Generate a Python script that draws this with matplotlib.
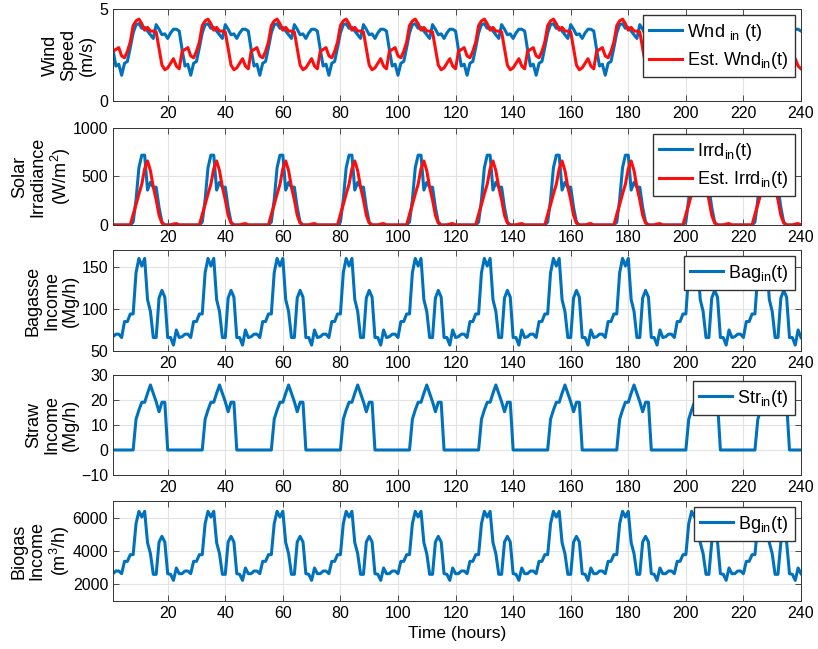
import numpy as np
import matplotlib
matplotlib.use('Agg')
import matplotlib.pyplot as plt

plt.rcParams['font.family'] = ['Liberation Sans', 'DejaVu Sans']
plt.rcParams['mathtext.fontset'] = 'custom'
plt.rcParams['mathtext.rm'] = 'Liberation Sans'
plt.rcParams['mathtext.it'] = 'Liberation Sans:italic'
plt.rcParams['font.size'] = 12

# Datos: un dia (horas 1..24), repetido 10 dias
N_DIAS = 10
wnd_dia = [2.8, 1.9, 2.0, 1.4, 2.05, 2.15, 2.9, 3.7, 4.15, 4.2, 3.95, 4.0,
           3.8, 3.6, 3.4, 4.15, 3.9, 3.6, 3.65, 3.4, 3.7, 3.9, 3.9, 3.8]
wnd_est_dia = [2.7, 2.8, 2.9, 2.45, 2.35, 2.7, 3.2, 4.1, 4.35, 4.45, 4.2, 3.85,
               4.0, 3.8, 3.8, 3.75, 2.85, 1.95, 1.7, 1.8, 2.05, 2.3, 1.9, 1.75]
irrd_dia = [0, 0, 0, 0, 0, 0, 0, 30, 260, 590, 720, 720,
            360, 440, 390, 390, 180, 30, 0, 0, 0, 0, 0, 0]
irrd_est_dia = [0, 0, 0, 0, 0, 0, 0, 110, 210, 320, 420, 580,
                660, 560, 390, 260, 100, 20, 0, 0, 0, 10, 15, 0]
bag_dia = [67, 70, 70, 66, 85, 85, 94, 94, 143, 160, 151, 160,
           111, 97, 66, 66, 113, 122, 114, 66, 66, 57, 75, 66]
str_dia = [0, 0, 0, 0, 0, 0, 0, 0, 12.3, 16, 19.1, 19.1,
           22.7, 26, 22.7, 19.3, 15.3, 19.1, 19.1, 0, 0, 0, 0, 0]
bg_dia = [2640, 2800, 2800, 2640, 3380, 3380, 3780, 3780, 5640, 6380, 6040, 6380,
          4500, 3840, 2600, 2600, 4540, 4880, 4540, 2640, 2600, 2240, 2980, 2640]

t = np.arange(1, 24 * N_DIAS + 1)
wnd = np.tile(wnd_dia, N_DIAS)
wnd_est = np.tile(wnd_est_dia, N_DIAS)
irrd = np.tile(irrd_dia, N_DIAS)
irrd_est = np.tile(irrd_est_dia, N_DIAS)
bag = np.tile(bag_dia, N_DIAS)
straw = np.tile(str_dia, N_DIAS)
bg = np.tile(bg_dia, N_DIAS)

AZUL = '#0072BD'
ROJO = '#FF0D0D'

fig = plt.figure(figsize=(8.18, 6.49), dpi=100)
W = 818.0
H = 649.0
izq, der = 113, 801
# (arriba, abajo) de cada panel en pixeles
cajas = [(9, 101), (128, 225), (250, 351), (375, 475), (501, 601)]
ejes = []
for arriba, abajo in cajas:
    ax = fig.add_axes([izq / W, 1 - abajo / H, (der - izq) / W, (abajo - arriba) / H])
    ejes.append(ax)


def estilo(ax, ylim, yticks, ylabel, xlab):
    ax.set_xlim(1, 240)
    ax.set_xticks(np.arange(20, 241, 20))
    ax.set_ylim(*ylim)
    ax.set_yticks(yticks)
    ax.set_ylabel(ylabel, fontsize=13, linespacing=1.12)
    # borde derecho de la etiqueta, en pixeles de la figura
    ax.yaxis.set_label_coords((xlab - izq) / (der - izq), 0.5)
    ax.grid(True, color='#e3e3e3', linewidth=0.8)
    ax.set_axisbelow(True)
    ax.tick_params(direction='in', top=True, right=True, labelsize=11.5,
                   color='#333333', length=4, width=0.6)
    for s in ax.spines.values():
        s.set_color('#333333')
        s.set_linewidth(0.7)


def leyenda(ax):
    ax.legend(loc='upper right', fancybox=False, framealpha=1, edgecolor='#333333',
              fontsize=13, borderaxespad=0.35, handlelength=1.8, labelspacing=0.4,
              borderpad=0.35, handletextpad=0.3)


ax = ejes[0]
ax.plot(t, wnd, color=AZUL, lw=2.2, label=r'Wnd $_{\mathrm{in}}$ (t)')
ax.plot(t, wnd_est, color=ROJO, lw=2.2, label=r'Est. Wnd$_{\mathrm{in}}$(t)')
estilo(ax, (0, 5), [0, 5], 'Wind\nSpeed\n(m/s)', 96)
leyenda(ax)

ax = ejes[1]
ax.plot(t, irrd, color=AZUL, lw=2.2, label=r'Irrd$_{\mathrm{in}}$(t)')
ax.plot(t, irrd_est, color=ROJO, lw=2.2, label=r'Est. Irrd$_{\mathrm{in}}$(t)')
estilo(ax, (0, 1000), [0, 500, 1000], 'Solar\nIrradiance\n(W/m$^2$)', 73)
leyenda(ax)

ax = ejes[2]
ax.plot(t, bag, color=AZUL, lw=2.2, label=r'Bag$_{\mathrm{in}}$(t)')
estilo(ax, (50, 170), [50, 100, 150], 'Bagasse\nIncome\n(Mg/h)', 79)
leyenda(ax)

ax = ejes[3]
ax.plot(t, straw, color=AZUL, lw=2.2, label=r'Str$_{\mathrm{in}}$(t)')
estilo(ax, (-10, 30), [-10, 0, 10, 20, 30], 'Straw\nIncome\n(Mg/h)', 79)
leyenda(ax)

ax = ejes[4]
ax.plot(t, bg, color=AZUL, lw=2.2, label=r'Bg$_{\mathrm{in}}$(t)')
estilo(ax, (1000, 7000), [2000, 4000, 6000], 'Biogas\nIncome\n(m$^3$/h)', 72)
leyenda(ax)
ax.set_xlabel('Time (hours)', fontsize=12.5)

fig.savefig('out.png', dpi=100)
